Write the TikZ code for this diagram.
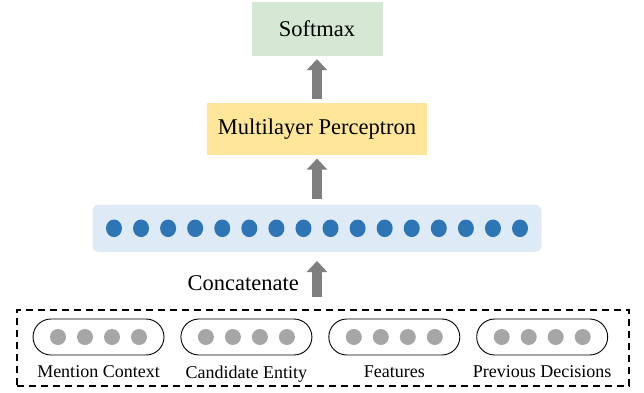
\documentclass[tikz,border=0pt]{standalone}
\usepackage{fontspec}
\setmainfont{Liberation Serif}
\usetikzlibrary{arrows.meta,positioning,calc}
\definecolor{softgreen}{HTML}{D5E8D4}
\definecolor{mlpyellow}{HTML}{FFE699}
\definecolor{barblue}{HTML}{DEEBF7}
\definecolor{dotblue}{HTML}{2E75B6}
\definecolor{dotgray}{HTML}{A6A6A6}
\definecolor{arrowgray}{HTML}{7F7F7F}

\begin{document}
\begin{tikzpicture}[
    x=1pt, y=1pt,
    node distance=47pt,
    box/.style={rectangle, inner sep=0pt, align=center, font=\fontsize{22.5}{26}\selectfont},
    pill/.style={rectangle, draw, rounded corners=18pt, minimum width=131pt, minimum height=36pt, line width=0.9pt},
    tag/.style={inner sep=0pt, font=\fontsize{18}{21}\selectfont},
    fatarrow/.style={draw=arrowgray, line width=10pt, -{Triangle[width=20pt, length=11pt]}}
]
\useasboundingbox (0,0) rectangle (644,392);

\node[box, fill=softgreen, minimum width=131pt, minimum height=54pt] (softmax) at (317,363) {Softmax};
\node[box, fill=mlpyellow, minimum width=220pt, minimum height=52pt, below=47pt of softmax] (mlp) {Multilayer Perceptron};
\node[box, fill=barblue, rounded corners=6pt, minimum width=449pt, minimum height=47pt, below=49pt of mlp] (bar) {};
\foreach \i in {0,...,15}
    \fill[dotblue] ($(bar)+({27.07*(\i-7.5)},0)$) ellipse [x radius=8pt, y radius=8.8pt];

% inputs
\node[draw, dashed, dash pattern=on 7pt off 5pt, line width=1.6pt, minimum width=612pt, minimum height=76pt] (inputs) at (323,44) {};
\node[pill] (ctx) at (98.5,55) {};
\node[pill, right=16pt of ctx] (cand) {};
\node[pill, right=16pt of cand] (feat) {};
\node[pill, right=16pt of feat] (prev) {};
\foreach \p in {ctx,cand,feat,prev}
    \foreach \dx in {-40.5,-13.5,13.5,40.5}
        \fill[dotgray] ($(\p)+(\dx,0)$) circle (8pt);
\node[tag, below=10pt of ctx] (ctxlabel) {Mention Context};
\node[tag, below=10pt of cand] (candlabel) {Candidate Entity};
\node[tag, below=10pt of feat] (featlabel) {Features};
\node[tag, below=10pt of prev] (prevlabel) {Previous Decisions};

\draw[fatarrow, shorten <=12pt, shorten >=9pt] (bar.south |- inputs.north) -- (bar.south);
\node[box, anchor=east] (concat) at (299,109) {Concatenate};
\draw[fatarrow, shorten <=6pt, shorten >=3pt] (bar.north) -- (mlp.south -| bar.north);
\draw[fatarrow, shorten <=4pt, shorten >=3pt] (mlp.north) -- (softmax.south);
\end{tikzpicture}
\end{document}
